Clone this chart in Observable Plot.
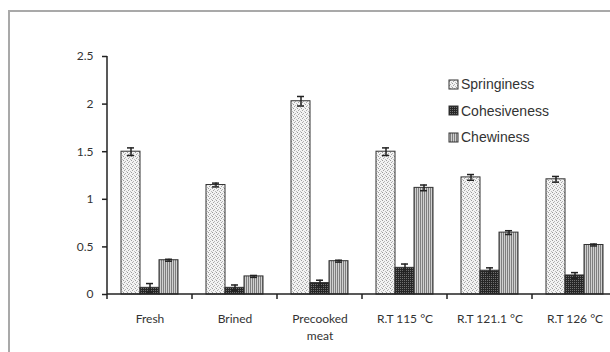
<!DOCTYPE html>
<html><head><meta charset="utf-8">
<script src="https://cdn.jsdelivr.net/npm/d3@7"></script>
<script src="https://cdn.jsdelivr.net/npm/@observablehq/plot@0.6"></script>
<style>
body{margin:0;background:#fff;}
#wrap{position:relative;width:610px;height:352px;overflow:hidden;}
#frame{position:absolute;left:8px;top:10px;width:660px;height:420px;border:2px solid #a9a9a9;box-sizing:border-box;}
#chart{position:absolute;left:0;top:0;}
#legend{position:absolute;left:448px;top:71px;font-family:"Liberation Sans",Arial,sans-serif;font-size:14px;color:#333;}
.item{display:flex;align-items:center;height:26.5px;}
.item svg{margin-right:2px;}
</style></head><body>
<div id="wrap"><div id="frame"></div><div id="chart"></div><div id="legend"></div></div>
<script>
const categories = ["Fresh", "Brined", "Precooked meat", "R.T 115 °C", "R.T 121.1 °C", "R.T 126 °C"];
const categoryLabels = ["Fresh", "Brined", "Precooked\nmeat", "R.T 115 °C", "R.T 121.1 °C", "R.T 126 °C"];
const series = ["Springiness", "Cohesiveness", "Chewiness"];
const springiness = [1.50, 1.15, 2.03, 1.50, 1.23, 1.21];
const springinessErr = [0.04, 0.02, 0.05, 0.04, 0.03, 0.03];
const cohesiveness = [0.07, 0.07, 0.12, 0.28, 0.25, 0.20];
const cohesivenessErr = [0.045, 0.03, 0.03, 0.04, 0.03, 0.03];
const chewiness = [0.36, 0.19, 0.35, 1.12, 0.65, 0.52];
const chewinessErr = [0.01, 0.01, 0.01, 0.03, 0.02, 0.01];
const yTicks = [0, 0.5, 1, 1.5, 2, 2.5];
const fills = ["url(#pSpring)", "url(#pCoh)", "url(#pChew)"];

const valueSets = [springiness, cohesiveness, chewiness];
const errSets = [springinessErr, cohesivenessErr, chewinessErr];
const rows = [];
categories.forEach((c, i) => series.forEach((s, j) => rows.push({category: c, series: s, value: valueSets[j][i], err: errSets[j][i]})));

const defs = `<defs>
<pattern id="pSpring" width="4" height="4" patternUnits="userSpaceOnUse">
<rect width="4" height="4" fill="#f3f3f3"/><rect x="0" y="0" width="1" height="1" fill="#9a9a9a"/><rect x="2" y="1" width="1" height="1" fill="#b5b5b5"/><rect x="1" y="2" width="1" height="1" fill="#a5a5a5"/><rect x="3" y="3" width="1" height="1" fill="#bcbcbc"/></pattern>
<pattern id="pCoh" width="2" height="2" patternUnits="userSpaceOnUse">
<rect width="2" height="2" fill="#262626"/><rect x="0" y="0" width="1" height="1" fill="#707070"/></pattern>
<pattern id="pChew" width="2" height="2" patternUnits="userSpaceOnUse">
<rect width="2" height="2" fill="#d0d0d0"/><rect x="0" y="0" width="1" height="2" fill="#7e7e7e"/></pattern>
</defs>`;

function build(pad) {
  return Plot.plot({
    width: 610, height: 352,
    marginLeft: 106, marginRight: -8, marginTop: 56, marginBottom: 58,
    style: {fontFamily: "Lato, 'Open Sans', sans-serif", fontSize: "12px", color: "#333", background: "none", overflow: "visible"},
    fx: {domain: categories, paddingInner: 0.332, paddingOuter: 0.166, label: null, axis: null},
    x: {domain: series, padding: 0, axis: null},
    y: {domain: [0, 2.5], axis: null},
    color: {domain: series, range: fills},
    marks: [
      Plot.barY(rows, {fx: "category", x: "series", y: "value", fill: "series", stroke: "#333", strokeWidth: 1}),
      Plot.ruleX(rows, {fx: "category", x: "series", y1: d => d.value - d.err, y2: d => d.value + d.err, stroke: "#222", strokeWidth: 1.5}),
      Plot.tickY(rows, {fx: "category", x: "series", y: d => d.value + d.err, inset: 6, stroke: "#222", strokeWidth: 1.5}),
      Plot.tickY(rows, {fx: "category", x: "series", y: d => d.value - d.err, inset: 6, stroke: "#222", strokeWidth: 1.5}),
      Plot.axisY({ticks: yTicks, tickFormat: d => String(d), tickSize: 5, tickPadding: 9, dx: -pad, stroke: "#222", strokeWidth: 1.5, label: null, fill: "#333"}),
      Plot.axisFx({anchor: "bottom", tickSize: 0, tickPadding: 17, label: null, lineHeight: 1.4, fill: "#333",
        tickFormat: d => categoryLabels[categories.indexOf(d)]})
    ]
  });
}

let chart = build(0);
let fxS = chart.scale("fx");
let step = fxS.step ?? (fxS.range[1] - fxS.range[0]) / (categories.length - fxS.paddingInner + 2 * fxS.paddingOuter);
let pad = (step - fxS.bandwidth) / 2;
chart = build(pad);
fxS = chart.scale("fx");
const yS = chart.scale("y");
const svg = d3.select(chart);
svg.insert(() => new DOMParser().parseFromString(`<svg xmlns="http://www.w3.org/2000/svg">${defs}</svg>`, "image/svg+xml").documentElement.firstElementChild, ":first-child");
const g = svg.append("g").attr("stroke", "#222").attr("stroke-width", 1.5);
const y0 = yS.apply(0);
const left = fxS.apply(categories[0]) - pad;
const right = fxS.apply(categories[categories.length - 1]) + fxS.bandwidth + pad;
g.append("line").attr("x1", left).attr("x2", right).attr("y1", y0).attr("y2", y0);
g.append("line").attr("x1", left).attr("x2", left).attr("y1", yS.apply(2.5)).attr("y2", y0);
categories.forEach(c => {
  const bx = fxS.apply(c) - pad;
  g.append("line").attr("x1", bx).attr("x2", bx).attr("y1", y0).attr("y2", y0 + 5);
});
document.getElementById("chart").appendChild(chart);

const legend = d3.select("#legend");
series.forEach((s, j) => {
  const it = legend.append("div").attr("class", "item");
  const sw = it.append("svg").attr("width", 11).attr("height", 11);
  sw.append("rect").attr("x", 1).attr("y", 1).attr("width", 9).attr("height", 9).attr("fill", fills[j]).attr("stroke", "#333").attr("stroke-width", 1);
  it.append("span").text(s);
});
</script>
</body></html>
